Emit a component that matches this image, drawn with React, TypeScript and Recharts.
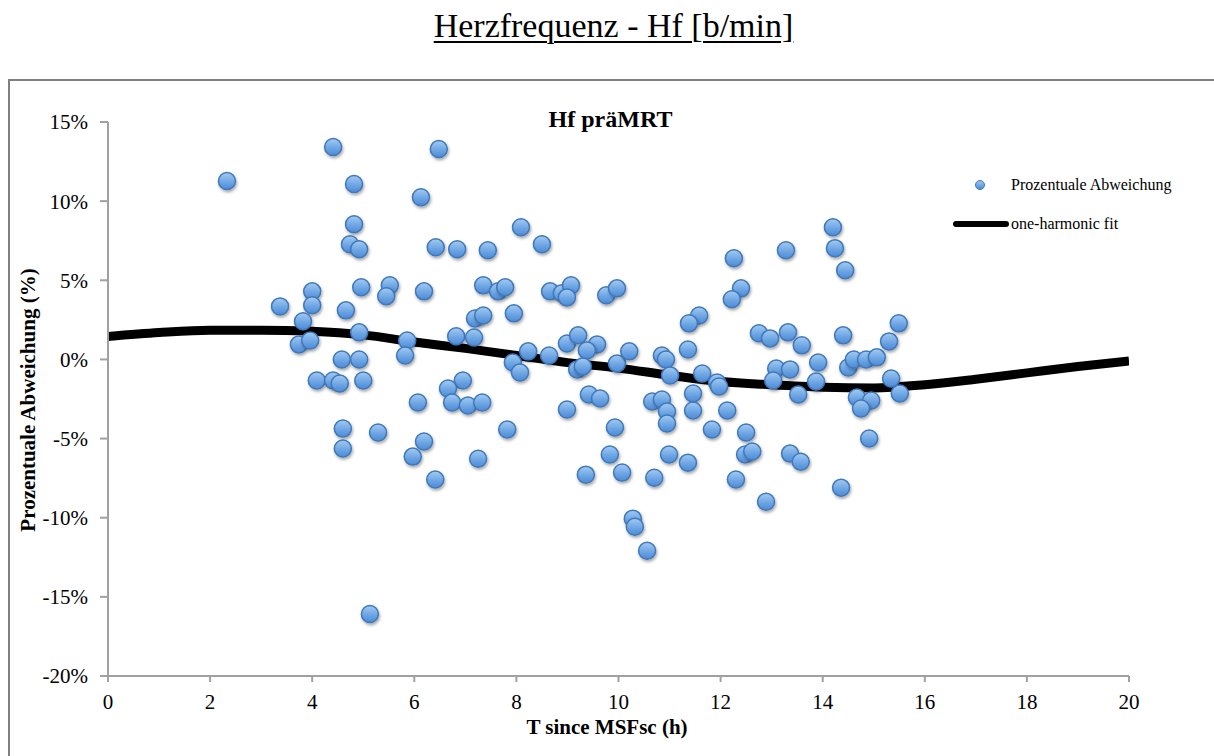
import { ComposedChart, Scatter, Line, XAxis, YAxis } from "recharts";

// T since MSFsc (h) and deviation (%)
const hours = [
  2.33, 4.41, 6.48, 4.82, 6.13, 4.82, 4.74, 4.92, 8.09, 6.42,
  6.84, 7.44, 4.96, 5.52, 5.45, 4.0, 4.0, 3.37, 6.19, 7.35,
  7.64, 7.78, 4.66, 3.82, 7.95, 7.19, 7.35, 4.92, 3.74, 3.96,
  5.86, 5.82, 6.82, 7.17, 7.93, 8.07, 4.58, 4.92, 4.09, 4.41,
  4.54, 5.0, 6.95, 6.66, 6.07, 6.74, 7.05, 7.33, 4.6, 4.6,
  5.29, 6.19, 5.97, 7.25, 6.41, 7.82, 5.13, 8.5, 8.66, 8.89,
  9.07, 8.99, 9.76, 9.97, 12.26, 13.28, 12.4, 12.22, 11.58, 11.38,
  11.36, 12.75, 12.97, 13.32, 13.59, 13.91, 13.87, 8.23, 8.64, 8.99,
  9.21, 9.58, 9.38, 9.19, 9.3, 9.97, 10.21, 10.85, 10.93, 11.01,
  11.64, 11.93, 11.97, 13.09, 13.36, 13.03, 13.52, 9.42, 9.64, 10.66,
  10.85, 11.46, 10.95, 10.95, 11.46, 12.13, 8.99, 9.93, 11.83, 12.5,
  9.83, 10.99, 11.36, 12.48, 12.62, 13.36, 13.57, 9.36, 10.07, 10.7,
  12.3, 12.89, 10.28, 10.32, 10.56, 14.2, 14.24, 14.44, 14.4, 14.5,
  14.61, 14.85, 15.06, 15.3, 15.49, 15.34, 15.51, 14.67, 14.95, 14.75,
  14.91, 14.36,
];

const deviation = [
  11.27, 13.42, 13.29, 11.08, 10.25, 8.54, 7.28, 6.96, 8.35, 7.09,
  6.96, 6.9, 4.56, 4.68, 3.99, 4.3, 3.42, 3.35, 4.3, 4.68,
  4.3, 4.56, 3.1, 2.41, 2.91, 2.59, 2.78, 1.71, 0.95, 1.2,
  1.2, 0.25, 1.46, 1.39, -0.19, -0.82, 0, 0, -1.33, -1.33,
  -1.52, -1.33, -1.33, -1.84, -2.72, -2.72, -2.91, -2.72, -4.37, -5.63,
  -4.62, -5.19, -6.14, -6.27, -7.59, -4.43, -16.08, 7.28, 4.3, 4.18,
  4.68, 3.92, 4.05, 4.49, 6.39, 6.9, 4.49, 3.8, 2.78, 2.28,
  0.63, 1.65, 1.33, 1.71, 0.89, -0.19, -1.39, 0.51, 0.25, 1.01,
  1.52, 0.95, 0.57, -0.63, -0.44, -0.25, 0.51, 0.25, 0, -1.01,
  -0.89, -1.46, -1.71, -0.57, -0.63, -1.33, -2.22, -2.22, -2.47, -2.66,
  -2.53, -2.15, -3.29, -4.05, -3.23, -3.23, -3.16, -4.3, -4.43, -4.62,
  -6.01, -6.01, -6.52, -6.01, -5.82, -5.95, -6.46, -7.28, -7.15, -7.47,
  -7.59, -8.99, -10.06, -10.57, -12.09, 8.35, 7.03, 5.63, 1.52, -0.51,
  0, 0, 0.13, 1.14, 2.28, -1.2, -2.15, -2.41, -2.59, -3.1,
  -5.0, -8.1,
];

// one-harmonic fit, read at each full hour
const fitHours = [0, 1, 2, 3, 4, 5, 6, 7, 8, 9, 10, 11, 12, 13, 14, 15, 16, 17, 18, 19, 20];
const fitValues = [
  1.45, 1.7, 1.85, 1.85, 1.78, 1.55, 1.1, 0.7, 0.25, -0.2,
  -0.55, -1.0, -1.4, -1.6, -1.75, -1.8, -1.6, -1.25, -0.85, -0.45, -0.1,
];

const xTicks = [0, 2, 4, 6, 8, 10, 12, 14, 16, 18, 20];
const yTicks = [-20, -15, -10, -5, 0, 5, 10, 15];

const points = hours.map((h, i) => ({ x: h, y: deviation[i] }));
const fit = fitHours.map((h, i) => ({ x: h, fit: fitValues[i] }));

const serif = "'Liberation Serif', 'Times New Roman', serif";

const Dot = (props: any) => {
  const { cx, cy } = props;
  if (cx == null || cy == null) return null;
  return (
    <circle
      cx={cx}
      cy={cy}
      r={8.5}
      fill="url(#dotFill)"
      stroke="#3f78ba"
      strokeWidth={1.5}
      filter="url(#dotShadow)"
    />
  );
};

const XTick = (props: any) => (
  <text
    x={props.x}
    y={props.y}
    dy="0.71em"
    textAnchor="middle"
    fill="#000"
    fontSize={21}
    fontFamily={serif}
  >
    {props.payload.value}
  </text>
);

const YTick = (props: any) => (
  <text
    x={props.x}
    y={props.y}
    dy="0.355em"
    textAnchor="end"
    fill="#000"
    fontSize={21}
    fontFamily={serif}
  >
    {`${props.payload.value}%`}
  </text>
);

export default function App() {
  return (
    <div
      style={{
        position: "absolute",
        left: 0,
        top: 0,
        width: 1214,
        height: 756,
        overflow: "hidden",
        background: "#fff",
        fontFamily: serif,
      }}
    >
      <div
        style={{
          position: "absolute",
          left: 0,
          width: 1227,
          top: 9,
          textAlign: "center",
          fontSize: 34,
          lineHeight: "33px",
          textDecoration: "underline",
          textUnderlineOffset: 4,
          textDecorationThickness: 1.5,
        }}
      >
        Herzfrequenz - Hf [b/min]
      </div>

      <div
        style={{
          position: "absolute",
          left: 8,
          top: 79,
          width: 1240,
          height: 720,
          border: "2px solid #808080",
        }}
      />

      <div
        style={{
          position: "absolute",
          left: 0,
          width: 1221,
          top: 107,
          textAlign: "center",
          fontSize: 24,
          fontWeight: "bold",
          lineHeight: "24px",
        }}
      >
        Hf präMRT
      </div>

      <div
        style={{
          position: "absolute",
          left: 0,
          width: 1214,
          top: 716,
          textAlign: "center",
          fontSize: 21,
          fontWeight: "bold",
          lineHeight: "22px",
        }}
      >
        T since MSFsc (h)
      </div>

      <div
        style={{
          position: "absolute",
          left: 28,
          top: 400,
          transform: "translate(-50%, -50%) rotate(-90deg)",
          whiteSpace: "nowrap",
          fontSize: 21,
          fontWeight: "bold",
          lineHeight: "22px",
        }}
      >
        Prozentuale Abweichung (%)
      </div>

      <ComposedChart
        width={1214}
        height={756}
        margin={{ top: 122, right: 85, bottom: 0, left: 48 }}
        style={{ position: "absolute", left: 0, top: 0 }}
      >
        <defs>
          <linearGradient id="dotFill" x1="0" y1="0" x2="0" y2="1">
            <stop offset="0%" stopColor="#a3cbf2" />
            <stop offset="55%" stopColor="#6ea6e4" />
            <stop offset="100%" stopColor="#4d8ad6" />
          </linearGradient>
          <filter id="dotShadow" x="-60%" y="-60%" width="220%" height="220%">
            <feDropShadow dx="1" dy="2" stdDeviation="1.4" floodColor="#000" floodOpacity="0.35" />
          </filter>
        </defs>
        <XAxis
          type="number"
          dataKey="x"
          domain={[0, 20]}
          ticks={xTicks}
          allowDataOverflow
          height={80}
          stroke="#a0a0a0"
          strokeWidth={2}
          tickSize={6}
          tickMargin={12}
          tick={XTick}
        />
        <YAxis
          type="number"
          domain={[-20, 15]}
          ticks={yTicks}
          allowDataOverflow
          width={60}
          stroke="#a0a0a0"
          strokeWidth={2}
          tickSize={8}
          tickMargin={12}
          tick={YTick}
        />
        <Line
          data={fit}
          dataKey="fit"
          type="monotone"
          stroke="#000"
          strokeWidth={9}
          dot={false}
          activeDot={false}
          isAnimationActive={false}
        />
        <Scatter data={points} dataKey="y" shape={Dot} isAnimationActive={false} />
      </ComposedChart>

      <div
        style={{
          position: "absolute",
          left: 953,
          top: 175,
          fontSize: 16,
          color: "#000",
          lineHeight: "20px",
        }}
      >
        <div style={{ display: "flex", alignItems: "center", height: 20 }}>
          <svg width={58} height={20}>
            <circle cx={27} cy={10} r={4.5} fill="url(#dotFill)" stroke="#3f78ba" strokeWidth={1} />
          </svg>
          <span>Prozentuale Abweichung</span>
        </div>
        <div style={{ display: "flex", alignItems: "center", height: 20, marginTop: 19 }}>
          <svg width={58} height={20}>
            <line x1={3} y1={10} x2={53} y2={10} stroke="#000" strokeWidth={6} strokeLinecap="round" />
          </svg>
          <span>one-harmonic fit</span>
        </div>
      </div>
    </div>
  );
}
